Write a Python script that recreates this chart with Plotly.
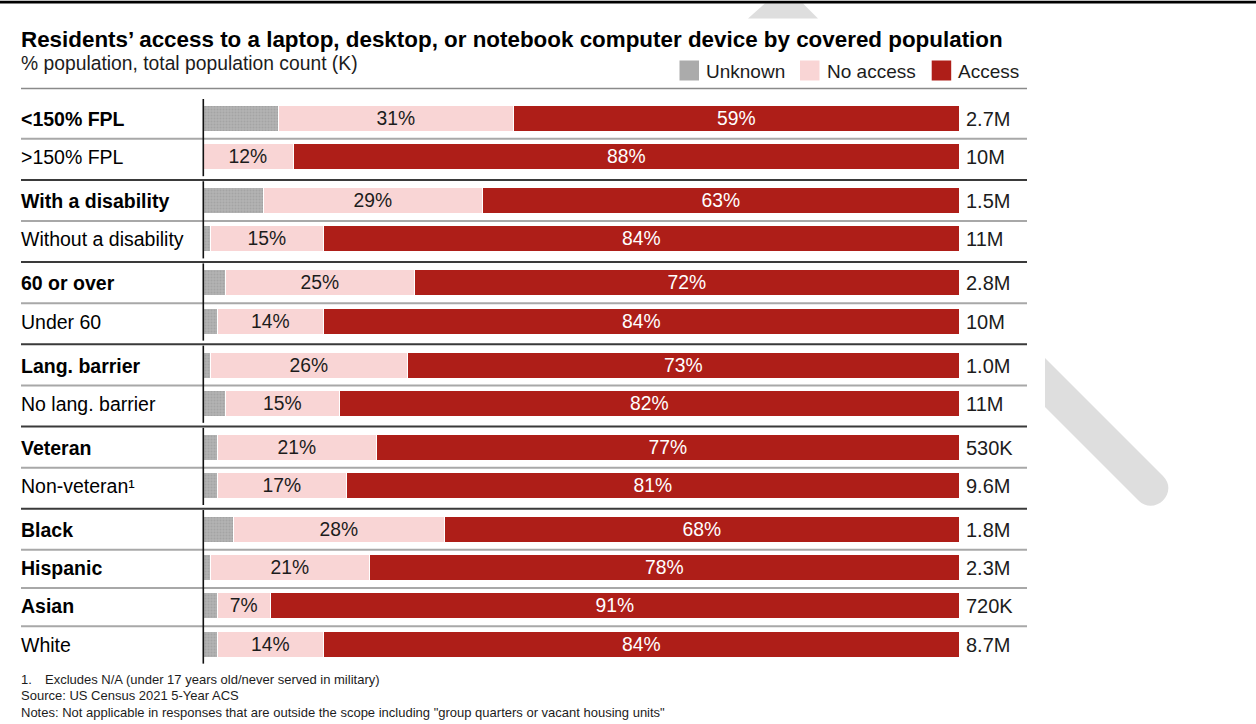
import plotly.graph_objects as go

# ---- data -------------------------------------------------------------
rows = ["<150% FPL", ">150% FPL", "With a disability", "Without a disability",
        "60 or over", "Under 60", "Lang. barrier", "No lang. barrier",
        "Veteran", "Non-veteran¹", "Black", "Hispanic", "Asian", "White"]
row_bold = [True, False, True, False, True, False, True, False,
            True, False, True, True, True, False]
row_group = [0, 0, 1, 1, 2, 2, 3, 3, 4, 4, 5, 5, 5, 5]
unknown = [10, 0, 8, 1, 3, 2, 1, 3, 2, 2, 4, 1, 2, 2]
no_access = [31, 12, 29, 15, 25, 14, 26, 15, 21, 17, 28, 21, 7, 14]
access = [59, 88, 63, 84, 72, 84, 73, 82, 77, 81, 68, 78, 91, 84]
population = ["2.7M", "10M", "1.5M", "11M", "2.8M", "10M", "1.0M", "11M",
              "530K", "9.6M", "1.8M", "2.3M", "720K", "8.7M"]

# ---- layout geometry (pixels) ------------------------------------------
W, H = 1256, 724
BAR_X0, BAR_X1 = 203.3, 960.0
ROW0_Y, PITCH = 119.0, 38.2
GROUP_GAP = 0.152
LEFT, RIGHT = 21, 1027
SHIFT = -2  # pulls left-anchored text onto its pixel column

FONT = "Liberation Sans, Arial, sans-serif"
RED = "#AE1E18"
PINK = "#F9D5D5"
GREY = "#ABABAB"
TXT = "#1c1c1c"

xscale = (BAR_X1 - BAR_X0) / 100.0
x_range = [-BAR_X0 / xscale, (W - BAR_X0) / xscale]
y_range = [(H - ROW0_Y) / PITCH, -ROW0_Y / PITCH]


def px(x):
    return x / W


def py(y):
    return 1 - y / H


pos = [i + GROUP_GAP * g for i, g in enumerate(row_group)]

fig = go.Figure()

common = dict(orientation="h", y=pos, width=0.68, hoverinfo="skip",
              marker_line=dict(color="white", width=1.5),
              textposition="inside", insidetextanchor="middle",
              constraintext="none", textangle=0)

fig.add_trace(go.Bar(x=unknown, name="Unknown",
                     marker=dict(color=GREY,
                                 pattern=dict(shape=".", fgcolor="#959595",
                                              bgcolor="#B3B3B3", size=3,
                                              solidity=0.35)),
                     **common))
fig.add_trace(go.Bar(x=no_access, name="No access", marker_color=PINK,
                     text=[f"{v}%" for v in no_access],
                     textfont=dict(family=FONT, size=19.3, color=TXT),
                     **common))
fig.add_trace(go.Bar(x=access, name="Access", marker_color=RED,
                     text=[f"{v}%" for v in access],
                     textfont=dict(family=FONT, size=19.3, color="white"),
                     **common))

shapes = []
annotations = []

# top rule and decorative grey strokes
shapes.append(dict(type="line", xref="paper", yref="paper",
                   x0=0, x1=1, y0=py(2.2), y1=py(2.2),
                   line=dict(color="#000000", width=2.8)))


def pts(points):
    return " L ".join(f"{px(x):.5f},{py(y):.5f}" for x, y in points)


shapes.append(dict(type="path", xref="paper", yref="paper", layer="below",
                   path="M " + pts([(765, 3.4), (803, 3.4), (818, 18.5), (748, 18.5)]) + " Z",
                   fillcolor="#DEDEDE", line=dict(width=0)))
cap = (f" C {px(1179.3):.5f},{py(492.3):.5f} {px(1154.8):.5f},{py(516.8):.5f}"
       f" {px(1138.5):.5f},{py(500.5):.5f}")
shapes.append(dict(type="path", xref="paper", yref="paper", layer="below",
                   path="M " + pts([(1045, 407), (1045, 358), (1163, 476)]) + cap
                        + " L " + pts([(1045, 407)]) + " Z",
                   fillcolor="#DEDEDE", line=dict(width=0)))

# title block
annotations.append(dict(xref="paper", yref="paper", x=px(LEFT), y=py(39), xshift=SHIFT,
                        xanchor="left", yanchor="middle", showarrow=False,
                        text="<b>Residents’ access to a laptop, desktop, or notebook "
                             "computer device by covered population</b>",
                        font=dict(family=FONT, size=22.4, color="#000000")))
annotations.append(dict(xref="paper", yref="paper", x=px(LEFT), y=py(63), xshift=SHIFT,
                        xanchor="left", yanchor="middle", showarrow=False,
                        text="% population, total population count (K)",
                        font=dict(family=FONT, size=19.3, color=TXT)))

# legend
legend_items = [("Unknown", GREY, 679.5), ("No access", PINK, 800), ("Access", RED, 931.7)]
for name, color, x0 in legend_items:
    shapes.append(dict(type="rect", xref="paper", yref="paper",
                       x0=px(x0), x1=px(x0 + 19.5), y0=py(80.5), y1=py(60.5),
                       fillcolor=color, line=dict(width=0)))
    annotations.append(dict(xref="paper", yref="paper", x=px(x0 + 26.5), y=py(71),
                            xshift=SHIFT, xanchor="left", yanchor="middle",
                            showarrow=False, text=name,
                            font=dict(family=FONT, size=19, color=TXT)))

# header rule
shapes.append(dict(type="line", xref="paper", yref="paper",
                   x0=px(LEFT), x1=px(RIGHT), y0=py(88.5), y1=py(88.5),
                   line=dict(color="#8a8a8a", width=1.5)))

# row separators
for i in range(len(rows) - 1):
    y = (pos[i] + pos[i + 1]) / 2 + 0.7 / PITCH
    new_group = row_group[i] != row_group[i + 1]
    shapes.append(dict(type="line", xref="paper", yref="y",
                       x0=px(LEFT), x1=px(RIGHT), y0=y, y1=y,
                       line=dict(color="#3a3a3a" if new_group else "#a8a8a8",
                                 width=2)))

# vertical baseline, one segment per group
for g in sorted(set(row_group)):
    idx = [i for i, gg in enumerate(row_group) if gg == g]
    shapes.append(dict(type="line", xref="x", yref="y", x0=0, x1=0,
                       y0=pos[idx[0]] - 20 / PITCH, y1=pos[idx[-1]] + 19 / PITCH,
                       line=dict(color="#111111", width=1.6)))

# row labels and population totals
for i, name in enumerate(rows):
    label = f"<b>{name}</b>" if row_bold[i] else name
    annotations.append(dict(xref="paper", yref="y", x=px(LEFT), y=pos[i], xshift=SHIFT,
                            xanchor="left", yanchor="middle", showarrow=False,
                            text=label, font=dict(family=FONT, size=19.5, color="#000000")))
    annotations.append(dict(xref="paper", yref="y", x=px(965.5), y=pos[i], xshift=SHIFT,
                            xanchor="left", yanchor="middle", showarrow=False,
                            text=population[i], font=dict(family=FONT, size=20, color=TXT)))

# footnotes
foot_font = dict(family=FONT, size=13, color=TXT)
foot_lines = [
    (LEFT, 679, "1."),
    (45, 679, "Excludes N/A (under 17 years old/never served in military)"),
    (LEFT, 695.5, "Source: US Census 2021 5-Year ACS"),
    (LEFT, 712, "Notes: Not applicable in responses that are outside the scope "
                "including \"group quarters or vacant housing units\""),
]
for x, y, text in foot_lines:
    annotations.append(dict(xref="paper", yref="paper", x=px(x), y=py(y), xshift=SHIFT,
                            xanchor="left", yanchor="middle", showarrow=False,
                            text=text, font=foot_font))

fig.update_layout(
    width=W, height=H,
    margin=dict(l=0, r=0, t=0, b=0),
    barmode="stack", bargap=0,
    showlegend=False,
    paper_bgcolor="white", plot_bgcolor="rgba(0,0,0,0)",
    xaxis=dict(range=x_range, visible=False, fixedrange=True),
    yaxis=dict(range=y_range, visible=False, fixedrange=True),
    shapes=shapes, annotations=annotations,
    font=dict(family=FONT),
)

fig.write_html("out.html", config={"displayModeBar": False})
